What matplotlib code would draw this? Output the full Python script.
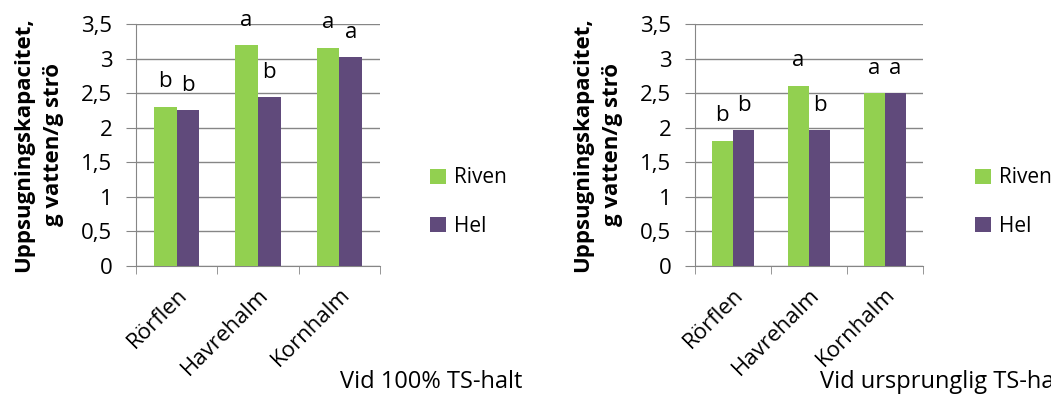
import numpy as np
import matplotlib.pyplot as plt

plt.rcParams['font.family'] = ['Open Sans', 'DejaVu Sans']

# Absorption capacity, g water / g straw
categories = ['Rörflen', 'Havrehalm', 'Kornhalm']
riven_dry = [2.30, 3.19, 3.16]
hel_dry = [2.25, 2.44, 3.02]
riven_orig = [1.81, 2.61, 2.50]
hel_orig = [1.96, 1.96, 2.50]

# significance letters
letters_riven_dry = ['b', 'a', 'a']
letters_hel_dry = ['b', 'b', 'a']
letters_riven_orig = ['b', 'a', 'a']
letters_hel_orig = ['b', 'b', 'a']

GREEN = '#92D050'
PURPLE = '#604A7B'
GRID = '#868686'
W, H = 1051, 399


def draw_panel(ax, riven, hel, let_r, let_h, title, title_x):
    x = np.arange(len(categories))
    bw = 0.28
    br = ax.bar(x - bw / 2, riven, bw, color=GREEN, label='Riven', zorder=3)
    bh = ax.bar(x + bw / 2, hel, bw, color=PURPLE, label='Hel', zorder=3)
    for bars, lets in [(br, let_r), (bh, let_h)]:
        for b, l in zip(bars, lets):
            ax.annotate(l, (b.get_x() + b.get_width() / 2, b.get_height()),
                        xytext=(0, 18), textcoords='offset points',
                        ha='center', va='center', fontsize=16,
                        annotation_clip=False)
    ax.set_xlim(-0.5, 2.5)
    ax.set_ylim(0, 3.5)
    ax.set_yticks(np.arange(0, 3.6, 0.5))
    ax.set_yticklabels(['0', '0,5', '1', '1,5', '2', '2,5', '3', '3,5'], fontsize=16)
    ax.yaxis.grid(True, color=GRID, linewidth=1)
    ax.set_axisbelow(True)
    ax.set_xticks(x)
    ax.set_xticklabels(categories, rotation=45, ha='right', va='top',
                       rotation_mode='anchor', fontsize=16)
    ax.set_xticks([-0.5, 0.5, 1.5, 2.5], minor=True)
    ax.tick_params(axis='x', which='major', length=0, pad=13)
    ax.tick_params(axis='x', which='minor', length=6, color=GRID)
    ax.tick_params(axis='y', length=7, color=GRID, pad=10)
    for s in ['top', 'right']:
        ax.spines[s].set_visible(False)
    for s in ['left', 'bottom']:
        ax.spines[s].set_color(GRID)
    ax.set_ylabel('Uppsugningskapacitet,\ng vatten/g strö', fontsize=16,
                  fontweight='bold', linespacing=1.55)
    fig.text(title_x / W, 1 - 382 / H, title, fontsize=17, va='center')
    ax.legend(loc='center left', frameon=False, fontsize=15,
              handlelength=0.75, handleheight=0.75, labelspacing=1.3,
              handletextpad=0.4, borderaxespad=0)


fig = plt.figure(figsize=(W / 100, H / 100), dpi=100)

ax1 = fig.add_axes([136 / W, 1 - 266 / H, 244 / W, 242 / H])
draw_panel(ax1, riven_dry, hel_dry, letters_riven_dry, letters_hel_dry,
           'Vid 100% TS-halt', 340)
ax1.yaxis.set_label_coords(-0.295, 0.5)
ax1.get_legend().set_bbox_to_anchor((422 / W, 1 - 202 / H), transform=fig.transFigure)

ax2 = fig.add_axes([695 / W, 1 - 266 / H, 228 / W, 242 / H])
draw_panel(ax2, riven_orig, hel_orig, letters_riven_orig, letters_hel_orig,
           'Vid ursprunglig TS-halt', 820)
ax2.yaxis.set_label_coords(-0.315, 0.5)
ax2.get_legend().set_bbox_to_anchor((967 / W, 1 - 202 / H), transform=fig.transFigure)

fig.savefig('out.png', dpi=100)
